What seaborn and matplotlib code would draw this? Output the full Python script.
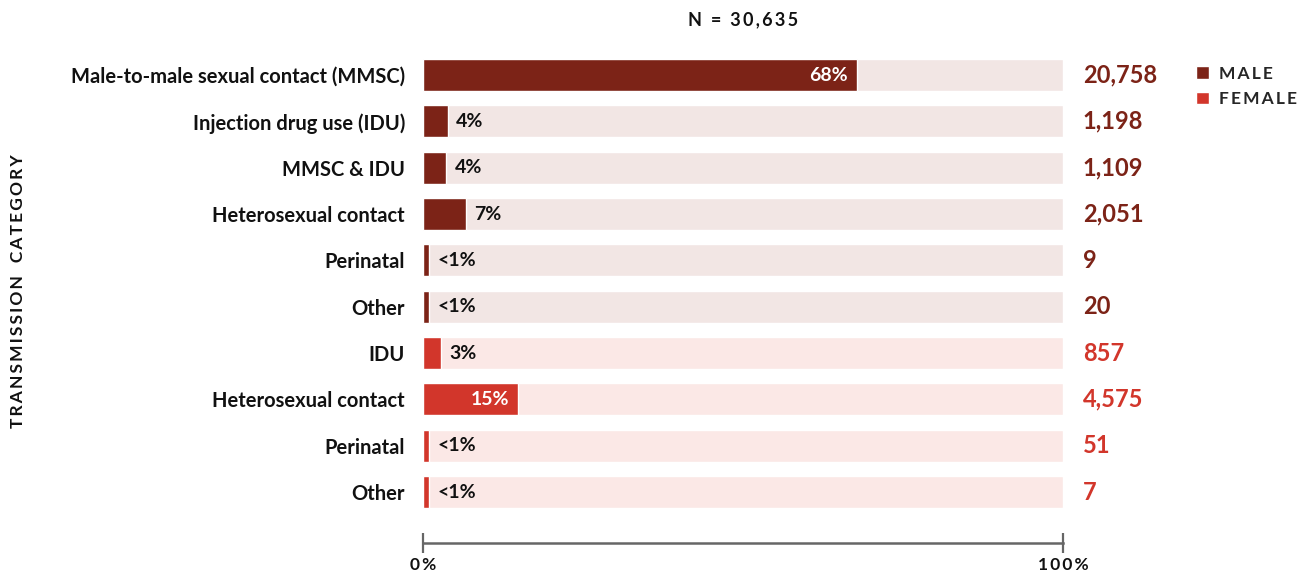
import matplotlib
matplotlib.use("Agg")
import matplotlib.pyplot as plt
import seaborn as sns
import pandas as pd
from matplotlib.patches import Patch

categories = ["Male-to-male sexual contact (MMSC)", "Injection drug use (IDU)", "MMSC & IDU",
              "Heterosexual contact", "Perinatal", "Other", "IDU", "Heterosexual contact ",
              "Perinatal ", "Other "]
sex = ["Male", "Male", "Male", "Male", "Male", "Male", "Female", "Female", "Female", "Female"]
share_pct = [67.8, 3.9, 3.6, 6.7, 1.0, 1.0, 2.8, 14.9, 1.0, 1.0]
share_labels = ["68%", "4%", "4%", "7%", "<1%", "<1%", "3%", "15%", "<1%", "<1%"]
counts = ["20,758", "1,198", "1,109", "2,051", "9", "20", "857", "4,575", "51", "7"]
total_label = "N = 30,635"
full_scale = [100] * len(categories)

MALE = "#7c2317"
FEMALE = "#d2362b"
MALE_BG = "#f2e6e4"
FEMALE_BG = "#fbe8e6"


def spaced(s):
    return "\u2009".join(s)


sns.set_theme(style="white")
plt.rcParams["font.family"] = ["Lato", "DejaVu Sans"]

df = pd.DataFrame({"category": categories, "sex": sex, "share": share_pct, "full": full_scale})

fig = plt.figure(figsize=(13.05, 5.71), dpi=100)
ax = fig.add_axes([423 / 1305, 1 - 543 / 571, 640 / 1305, (543 - 42.6) / 571])

bg_pal = {c: (MALE_BG if s == "Male" else FEMALE_BG) for c, s in zip(categories, sex)}
fg_pal = {c: (MALE if s == "Male" else FEMALE) for c, s in zip(categories, sex)}
sns.barplot(data=df, y="category", x="full", hue="category", palette=bg_pal, orient="h",
            width=0.69, legend=False, ax=ax, saturation=1)
sns.barplot(data=df, y="category", x="share", hue="category", palette=fg_pal, orient="h",
            width=0.69, legend=False, ax=ax, saturation=1)

ax.set_xlim(0, 100)
ax.set_ylim(10.1, -0.7)
for s in ["top", "right", "left"]:
    ax.spines[s].set_visible(False)
ax.spines["bottom"].set_color("#666666")
ax.spines["bottom"].set_linewidth(1.8)
ax.set_xticks([0, 100])
ax.set_xticklabels([spaced("0%"), spaced("100%")], fontsize=12.5, fontweight="bold", color="#111111")
ax.tick_params(axis="x", bottom=True, direction="inout", length=14, width=1.6, color="#666666", pad=3)
ax.tick_params(axis="y", left=False, length=0, pad=13)
ax.set_yticks(range(len(categories)))
ax.set_yticklabels([c.strip() for c in categories], fontsize=14.5, fontweight="bold", color="#111111")
ax.set_xlabel("")
ax.set_ylabel("")

for i, (p, lab, n, s) in enumerate(zip(share_pct, share_labels, counts, sex)):
    col = MALE if s == "Male" else FEMALE
    if p > 10:
        ax.text(p - 1.4, i, lab, ha="right", va="center", color="white", fontsize=14,
                fontweight="bold")
    else:
        ax.text(p + 1.3, i, lab, ha="left", va="center", color="#111111", fontsize=14,
                fontweight="bold")
    ax.text(103.1, i, n, ha="left", va="center", color=col, fontsize=17, fontweight="bold")

fig.text(743 / 1305, 1 - 20 / 571, spaced(total_label), ha="center", va="center", fontsize=13,
         fontweight="bold", color="#111111")
fig.text(18 / 1305, 1 - 291 / 571, spaced("TRANSMISSION") + "\u2003" + spaced("CATEGORY"),
         rotation=90, ha="center", va="center", fontsize=12.5, fontweight="bold", color="#111111")

handles = [Patch(facecolor=MALE, label=spaced("MALE")), Patch(facecolor=FEMALE, label=spaced("FEMALE"))]
leg = fig.legend(handles=handles, loc="upper left", bbox_to_anchor=(1180 / 1305, 1 - 50 / 571),
                 frameon=False, handlelength=0.75, handleheight=0.75, handletextpad=0.6,
                 labelspacing=0.55, prop={"size": 12.5, "weight": "bold"})

fig.savefig("out.png", dpi=100)
